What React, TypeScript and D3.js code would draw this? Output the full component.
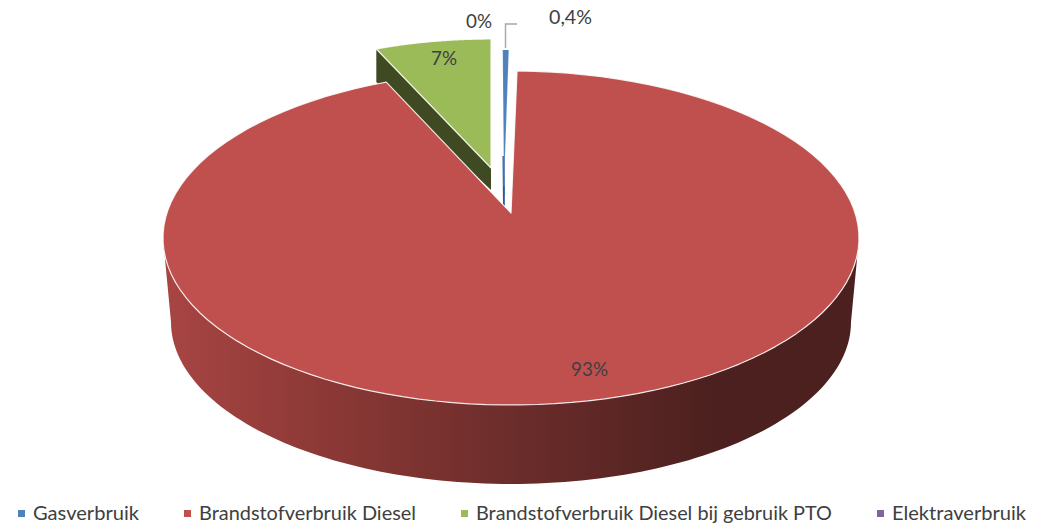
import React from "react";
import * as d3 from "d3";

const categories = ["Gasverbruik", "Brandstofverbruik Diesel", "Brandstofverbruik Diesel bij gebruik PTO", "Elektraverbruik"];
const values = [0.4, 92.6, 7, 0];
const valueLabels = ["0,4%", "93%", "7%", "0%"];
const topColors = ["#4F81BD", "#BF504E", "#9BBB59", "#8064A2"];
const sideColors = ["#2A5A94", "", "#3F4A22", ""];

const W = 1041, H = 527;
const toRad = Math.PI / 180;
// ellipse rim of the main (red) disc and its base
const rx = 348, ry = 167, cx = 511, cy = 238;
const baseRx = 340, baseRy = 162, baseCy = 322;

// perspective-corrected share -> rim angle
const cumulative = d3.cumsum(values);
const angle = d3.scaleLinear().domain([0, 0.4, 93, 100]).range([0, 1, 339, 360]);

// per-slice explosion layout
const slices = [
  { cx: 502.7, cy: 217, rx, ry, ax: 504, ay: 186, depthIn: 20, depthOut: 30 },
  { cx, cy, rx, ry, ax: 511, ay: 213, depthIn: 0, depthOut: 0 },
  { cx: 491, cy: 189, rx: 320, ry: 150, ax: 491, ay: 168, depthIn: 22, depthOut: 33 },
];

const line = d3.line<[number, number]>().x(d => d[0]).y(d => d[1]);
const rim = (c: number, d: number, rX: number, rY: number, a0: number, a1: number, n = 120) =>
  d3.range(n + 1).map(i => {
    const t = (a0 + ((a1 - a0) * i) / n) * toRad;
    return [c + rX * Math.sin(t), d - rY * Math.cos(t)] as [number, number];
  });

const wallPath =
  line([...rim(cx, cy, rx, ry, 90, 270), ...rim(cx, baseCy, baseRx, baseRy, 270, 90)]) + "Z";

const legendX = [18, 184, 461, 877];
const legendTextW = [106, 217, 356, 134];

export default function App() {
  const pts = values.slice(0, 3).map((v, i) => {
    const s = slices[i];
    const a0 = angle(i === 0 ? 0 : cumulative[i - 1]);
    const a1 = angle(cumulative[i]);
    return { s, a0, a1, arc: rim(s.cx, s.cy, s.rx, s.ry, a0, a1) };
  });
  const textStyle = { fontFamily: "Lato, 'Open Sans', sans-serif", fill: "#404040" };
  return (
    <svg width={W} height={H} style={{ position: "absolute", left: 0, top: 0 }}>
      <defs>
        <linearGradient id="wall" gradientUnits="userSpaceOnUse" x1={163} x2={859} y1={0} y2={0}>
          <stop offset="0" stopColor="#A84543" />
          <stop offset="0.27" stopColor="#873734" />
          <stop offset="0.5" stopColor="#6C2D2B" />
          <stop offset="0.8" stopColor="#4B201E" />
          <stop offset="1" stopColor="#4B201E" />
        </linearGradient>
      </defs>
      <rect width={W} height={H} fill="#fff" />
      <path d={wallPath} fill="url(#wall)" />
      {/* exposed inner walls of exploded slices */}
      {pts.map((p, i) => {
        if (!sideColors[i]) return null;
        const first = p.arc[0];
        const { ax, ay, depthIn, depthOut } = p.s;
        const q = p.arc[p.arc.length - 1];
        const corner: [number, number][] = i === 2
          ? [[ax, ay], first, [first[0], first[1] + depthOut], [ax, ay + depthIn]]
          : [[ax + 1, ay - 30], [ax - 1.5, ay - 30], [ax - 1, ay + depthIn], [ax + 0.8, ay + depthIn]];
        return <path key={"s" + i} d={line(corner) + "Z"} fill={sideColors[i]} />;
      })}
      {/* top faces */}
      {pts.map((p, i) => (
        <path
          key={"t" + i}
          d={line([[p.s.ax, p.s.ay], ...p.arc]) + "Z"}
          fill={topColors[i]}
          stroke="#fff"
          strokeOpacity={i === 0 ? 0.5 : 0.85}
          strokeWidth={i === 0 ? 0.3 : 1.2}
          strokeLinejoin="round"
        />
      ))}
      {/* leader */}
      <path d={line([[505.5, 48], [505.5, 24], [517, 24]]) ?? ""} fill="none" stroke="#A6A6A6" strokeWidth={1.4} />
      {/* labels */}
      <g style={textStyle} fontSize={20}>
        <text x={549} y={24} textLength={43} lengthAdjust="spacingAndGlyphs">{valueLabels[0]}</text>
        <text x={571} y={376} textLength={37} lengthAdjust="spacingAndGlyphs">{valueLabels[1]}</text>
        <text x={431} y={65} textLength={26} lengthAdjust="spacingAndGlyphs">{valueLabels[2]}</text>
        <text x={466} y={28} textLength={26} lengthAdjust="spacingAndGlyphs">{valueLabels[3]}</text>
      </g>
      {/* legend */}
      {categories.map((c, i) => (
        <g key={c}>
          <rect x={legendX[i]} y={510} width={7} height={7} fill={topColors[i]} />
          <text
            x={legendX[i] + 15}
            y={520}
            fontSize={20}
            style={textStyle}
            textLength={legendTextW[i]}
            lengthAdjust="spacingAndGlyphs"
          >
            {c}
          </text>
        </g>
      ))}
    </svg>
  );
}
